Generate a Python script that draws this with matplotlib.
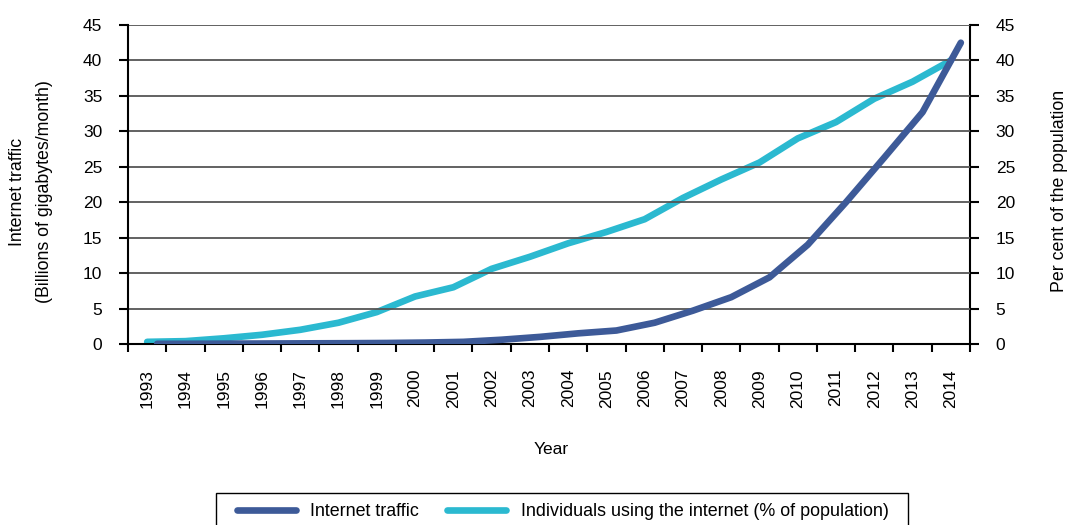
import numpy as np
import matplotlib.pyplot as plt
from matplotlib.patches import Rectangle
from matplotlib.transforms import offset_copy

plt.rcParams['font.family'] = ['Liberation Sans', 'DejaVu Sans']

years = [str(y) for y in range(1993, 2015)]
traffic = [0.02, 0.03, 0.05, 0.07, 0.09, 0.11, 0.14, 0.2, 0.3, 0.6, 1.0,
           1.5, 1.9, 3.0, 4.7, 6.6, 9.4, 14.0, 20.0, 26.3, 32.7, 42.5]
users = [0.3, 0.4, 0.8, 1.3, 2.0, 3.0, 4.5, 6.7, 8.0, 10.6, 12.3,
         14.2, 15.8, 17.6, 20.6, 23.2, 25.6, 29.0, 31.3, 34.6, 37.0, 40.0]

dark = '#3d5a98'
cyan = '#2bb9d0'
fs = 12.5

fig = plt.figure(figsize=(10.68, 5.25), dpi=100)
ax = fig.add_axes([0.1199, 0.3448, 0.7883, 0.6076])
ax2 = ax.twinx()

x = np.arange(len(years))
ax2.plot(x, users, color=cyan, lw=4.8, solid_capstyle='round', zorder=3)
# traffic series sits on a secondary category axis, drawn slightly to the right
shift = offset_copy(ax.transData, fig=fig, x=10, y=0, units='dots')
ax.plot(x, traffic, color=dark, lw=4.8, solid_capstyle='round', transform=shift, zorder=4)
ax.set_zorder(ax2.get_zorder() + 1)
ax.patch.set_visible(False)

for a in (ax, ax2):
    a.set_ylim(0, 45)
    a.set_yticks(np.arange(0, 46, 5))
    a.set_xlim(-0.5, len(years) - 0.5)
    for s in a.spines.values():
        s.set_visible(False)
    a.tick_params(axis='y', length=6.5, width=1.5, pad=12, labelsize=fs)

ax.spines['left'].set_visible(True)
ax.spines['left'].set_linewidth(1.5)
ax.spines['bottom'].set_visible(True)
ax.spines['bottom'].set_linewidth(1.5)
ax2.spines['right'].set_visible(True)
ax2.spines['right'].set_linewidth(1.5)

for v in np.arange(5, 46, 5):
    ax.axhline(v, color='#555555', lw=1.3, zorder=1)

ax.set_xticks(np.arange(-0.5, len(years), 1))
ax.set_xticklabels([])
ax.set_xticks(x, minor=True)
ax.set_xticklabels(years, minor=True, rotation=90, fontsize=fs)
ax.tick_params(axis='x', which='major', length=6, width=1.5)
ax.tick_params(axis='x', which='minor', length=0, pad=18)

fig.text(31 / 1068, 1 - 192 / 525, 'Internet traffic\n(Billions of gigabytes/month)',
         rotation=90, ha='center', va='center', fontsize=12.8, multialignment='center',
         linespacing=1.7)
fig.text(1060 / 1068, 1 - 191 / 525, 'Per cent of the population',
         rotation=90, ha='center', va='center', fontsize=12.8)

fig.text(551 / 1068, 1 - 449 / 525, 'Year', ha='center', va='center', fontsize=fs)

h1, = ax.plot([], [], color=dark, lw=4.8, solid_capstyle='round')
h2, = ax.plot([], [], color=cyan, lw=4.8, solid_capstyle='round')
leg = fig.legend([h1, h2], ['Internet traffic', 'Individuals using the internet (% of population)'],
                 loc='center left', bbox_to_anchor=(237 / 1068, 1 - 512 / 525), ncol=2,
                 fontsize=12.9, frameon=False, handlelength=3.3,
                 handletextpad=0.8, columnspacing=1.55, borderpad=0, borderaxespad=0)
# legend box runs past the bottom edge of the image
fig.patches.append(Rectangle((216 / 1068, -0.02), 692 / 1068, 0.02 + 32 / 525,
                             transform=fig.transFigure, fill=False, ec='black', lw=1.0))

fig.savefig('out.png', dpi=100)
